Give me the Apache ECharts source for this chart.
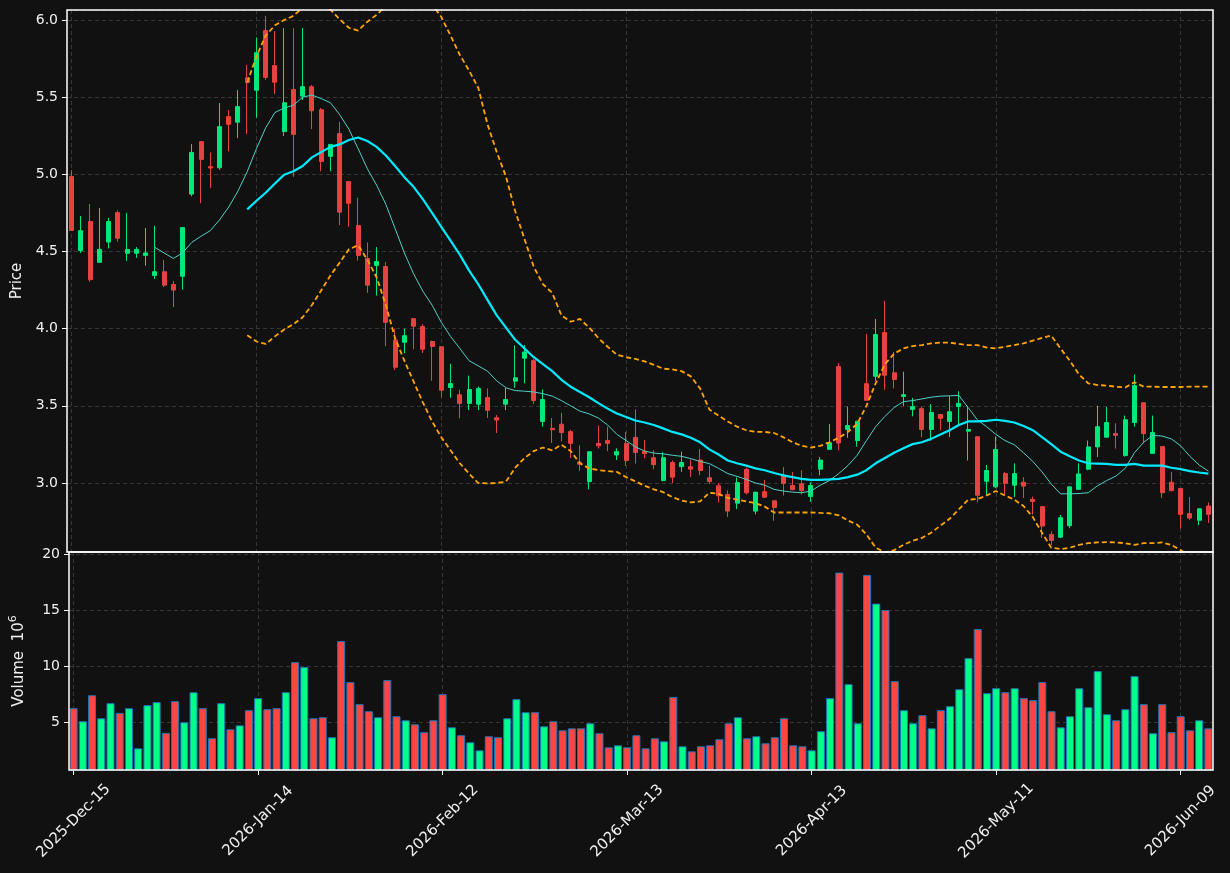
<!DOCTYPE html>
<html>
<head>
<meta charset="utf-8">
<script src="https://cdn.jsdelivr.net/npm/echarts@6/dist/echarts.min.js"></script>
<style>
  html, body { margin: 0; padding: 0; background: #111111; }
  #chart { width: 1230px; height: 873px; }
</style>
</head>
<body>
<div id="chart"></div>
<script>
// trading days shown on the x axis
const dates = [
  '2025-Dec-15','2025-Dec-16','2025-Dec-17','2025-Dec-18','2025-Dec-19','2025-Dec-22','2025-Dec-23','2025-Dec-24','2025-Dec-26','2025-Dec-29','2025-Dec-30','2025-Dec-31',
  '2026-Jan-02','2026-Jan-05','2026-Jan-06','2026-Jan-07','2026-Jan-08','2026-Jan-09','2026-Jan-12','2026-Jan-13','2026-Jan-14','2026-Jan-15','2026-Jan-16','2026-Jan-20','2026-Jan-21','2026-Jan-22','2026-Jan-23','2026-Jan-26','2026-Jan-27','2026-Jan-28','2026-Jan-29','2026-Jan-30',
  '2026-Feb-02','2026-Feb-03','2026-Feb-04','2026-Feb-05','2026-Feb-06','2026-Feb-09','2026-Feb-10','2026-Feb-11','2026-Feb-12','2026-Feb-13','2026-Feb-17','2026-Feb-18','2026-Feb-19','2026-Feb-20','2026-Feb-23','2026-Feb-24','2026-Feb-25','2026-Feb-26','2026-Feb-27',
  '2026-Mar-02','2026-Mar-03','2026-Mar-04','2026-Mar-05','2026-Mar-06','2026-Mar-09','2026-Mar-10','2026-Mar-11','2026-Mar-12','2026-Mar-13','2026-Mar-16','2026-Mar-17','2026-Mar-18','2026-Mar-19','2026-Mar-20','2026-Mar-23','2026-Mar-24','2026-Mar-25','2026-Mar-26','2026-Mar-27','2026-Mar-30','2026-Mar-31',
  '2026-Apr-01','2026-Apr-02','2026-Apr-06','2026-Apr-07','2026-Apr-08','2026-Apr-09','2026-Apr-10','2026-Apr-13','2026-Apr-14','2026-Apr-15','2026-Apr-16','2026-Apr-17','2026-Apr-20','2026-Apr-21','2026-Apr-22','2026-Apr-23','2026-Apr-24','2026-Apr-27','2026-Apr-28','2026-Apr-29','2026-Apr-30',
  '2026-May-01','2026-May-04','2026-May-05','2026-May-06','2026-May-07','2026-May-08','2026-May-11','2026-May-12','2026-May-13','2026-May-14','2026-May-15','2026-May-18','2026-May-19','2026-May-20','2026-May-21','2026-May-22','2026-May-26','2026-May-27','2026-May-28','2026-May-29',
  '2026-Jun-01','2026-Jun-02','2026-Jun-03','2026-Jun-04','2026-Jun-05','2026-Jun-08','2026-Jun-09','2026-Jun-10','2026-Jun-11','2026-Jun-12'
];

const opens = [
  4.986,4.507,4.694,4.430,4.561,4.752,4.489,4.489,4.475,4.345,4.369,4.286,4.340,4.872,5.212,5.050,5.043,5.374,5.338,5.626,
  5.545,5.932,5.705,5.277,5.550,5.507,5.568,5.419,5.117,5.264,4.953,4.669,4.455,4.410,4.403,3.926,3.912,4.065,4.014,3.917,
  3.883,3.619,3.572,3.516,3.511,3.554,3.423,3.511,3.660,3.809,3.793,3.399,3.354,3.381,3.333,3.135,3.009,3.257,3.275,3.182,
  3.257,3.295,3.205,3.164,3.016,3.133,3.106,3.106,3.149,3.034,2.982,2.926,2.869,3.088,2.818,2.944,2.885,3.052,2.984,2.995,
  2.912,3.090,3.218,3.755,3.347,3.275,3.644,3.691,3.975,3.714,3.561,3.477,3.482,3.347,3.444,3.399,3.495,3.336,3.300,3.011,
  2.975,3.061,2.986,3.005,2.894,2.847,2.667,2.649,2.723,2.959,3.090,3.234,3.297,3.320,3.178,3.392,3.520,3.192,3.236,3.005,
  2.964,2.802,2.759,2.851
];
const highs = [
  5.027,4.730,4.809,4.782,4.718,4.766,4.750,4.529,4.653,4.667,4.446,4.309,4.655,5.196,5.212,5.142,5.462,5.417,5.547,5.709,
  5.887,6.027,5.928,5.948,5.948,5.948,5.579,5.430,5.194,5.340,4.957,4.849,4.559,4.529,4.432,4.000,4.000,4.065,4.029,3.923,
  3.883,3.773,3.604,3.696,3.624,3.613,3.441,3.615,3.892,3.894,3.804,3.606,3.421,3.455,3.345,3.243,3.203,3.372,3.365,3.225,
  3.331,3.477,3.279,3.214,3.200,3.146,3.203,3.153,3.221,3.113,3.000,2.953,3.036,3.099,2.941,3.020,2.885,3.104,3.072,3.083,
  3.005,3.169,3.383,3.777,3.495,3.401,3.966,4.063,4.180,3.849,3.721,3.552,3.495,3.511,3.448,3.563,3.595,3.500,3.300,3.117,
  3.302,3.072,3.128,3.038,2.912,2.851,2.687,2.793,2.975,3.128,3.275,3.500,3.493,3.387,3.437,3.703,3.520,3.437,3.236,3.072,
  2.964,2.910,2.833,2.874
];
const lows = [
  4.637,4.491,4.304,4.430,4.520,4.563,4.439,4.459,4.408,4.322,4.270,4.140,4.254,4.858,4.813,4.910,5.029,5.149,5.236,5.261,
  5.367,5.613,5.520,5.248,4.984,5.482,5.293,5.020,5.020,4.671,4.660,4.441,4.232,4.214,3.887,3.732,3.842,3.867,3.842,3.662,
  3.556,3.552,3.419,3.473,3.473,3.421,3.324,3.473,3.617,3.646,3.511,3.365,3.259,3.270,3.162,3.079,2.959,3.223,3.207,3.149,
  3.110,3.126,3.160,3.090,3.011,3.000,3.072,3.038,3.050,2.993,2.874,2.779,2.831,2.926,2.797,2.903,2.755,2.919,2.953,2.926,
  2.878,3.050,3.218,3.212,3.293,3.236,3.536,3.662,3.604,3.613,3.500,3.432,3.297,3.275,3.342,3.297,3.381,3.146,2.874,2.921,
  2.966,2.926,2.908,2.903,2.795,2.644,2.599,2.644,2.707,2.959,3.083,3.169,3.293,3.223,3.171,3.365,3.257,3.192,2.903,2.950,
  2.705,2.761,2.727,2.741
];
const closes = [
  4.637,4.635,4.318,4.514,4.694,4.586,4.514,4.514,4.491,4.369,4.282,4.250,4.655,5.142,5.097,5.041,5.309,5.324,5.439,5.595,
  5.788,5.628,5.597,5.464,5.259,5.568,5.412,5.083,5.194,4.755,4.813,4.475,4.282,4.435,4.041,3.750,3.955,4.016,3.867,3.885,
  3.601,3.644,3.516,3.606,3.613,3.471,3.408,3.541,3.682,3.849,3.534,3.541,3.345,3.327,3.257,3.122,3.203,3.241,3.257,3.203,
  3.146,3.198,3.191,3.119,3.164,3.038,3.133,3.090,3.081,3.009,2.917,2.818,3.002,2.937,2.941,2.908,2.842,2.998,2.957,2.950,
  2.984,3.149,3.261,3.259,3.372,3.401,3.536,3.962,3.698,3.671,3.572,3.495,3.347,3.457,3.419,3.462,3.516,3.347,2.921,3.081,
  3.218,2.998,3.061,2.980,2.880,2.721,2.628,2.775,2.975,3.059,3.234,3.365,3.392,3.309,3.410,3.631,3.320,3.327,2.937,2.950,
  2.797,2.773,2.833,2.797
];

// volume in millions
const volumes = [
  6.25,5.08,7.41,5.35,6.70,5.83,6.25,2.66,6.52,6.79,4.04,6.88,4.99,7.68,6.25,3.56,6.70,4.36,4.72,6.07,
  7.15,6.16,6.25,7.68,10.37,9.93,5.35,5.44,3.65,12.26,8.58,6.61,5.98,5.44,8.76,5.53,5.17,4.81,4.10,5.17,
  7.50,4.54,3.83,3.20,2.48,3.74,3.65,5.35,7.06,5.89,5.89,4.63,5.08,4.27,4.45,4.45,4.90,4.01,2.75,2.93,
  2.75,3.83,2.66,3.56,3.29,7.26,2.84,2.39,2.84,2.93,3.47,4.90,5.44,3.56,3.74,3.11,3.65,5.35,2.93,2.84,
  2.48,4.19,7.15,18.39,8.40,4.90,18.18,15.61,15.04,8.67,6.07,4.90,5.62,4.45,6.07,6.43,7.95,10.73,13.33,7.59,
  8.04,7.68,8.04,7.15,6.97,8.58,5.98,4.54,5.53,8.04,6.34,9.57,5.71,5.17,6.16,9.12,6.61,4.01,6.61,4.10,
  5.53,4.27,5.17,4.45
];

// 10 and 20 period averages and bands as drawn
const ma10 = [
  null,null,null,null,null,null,null,null,null,4.527,4.491,4.455,4.491,4.559,4.599,4.635,4.705,4.788,4.892,5.018,
  5.167,5.302,5.401,5.430,5.448,5.500,5.514,5.491,5.464,5.387,5.293,5.167,5.036,4.930,4.806,4.649,4.491,4.356,4.243,4.153,
  4.041,3.950,3.872,3.793,3.759,3.725,3.662,3.617,3.599,3.595,3.590,3.579,3.563,3.534,3.500,3.466,3.448,3.421,3.376,3.315,
  3.275,3.234,3.207,3.194,3.189,3.180,3.173,3.158,3.140,3.126,3.095,3.061,3.043,3.023,3.000,2.986,2.959,2.948,2.941,2.937,
  2.948,2.986,3.016,3.061,3.113,3.180,3.275,3.365,3.432,3.489,3.527,3.534,3.545,3.556,3.563,3.565,3.568,3.489,3.410,3.365,
  3.315,3.275,3.248,3.196,3.140,3.072,2.993,2.930,2.930,2.932,2.937,2.982,3.016,3.045,3.095,3.196,3.264,3.309,3.304,3.286,
  3.241,3.173,3.117,3.077
];
const ma20 = [
  null,null,null,null,null,null,null,null,null,null,null,null,null,null,null,null,null,null,null,4.773,
  4.829,4.881,4.941,4.998,5.020,5.054,5.110,5.144,5.178,5.194,5.223,5.239,5.216,5.178,5.122,5.054,4.982,4.919,4.840,4.750,
  4.660,4.570,4.480,4.378,4.288,4.187,4.086,4.007,3.928,3.872,3.815,3.770,3.725,3.669,3.624,3.590,3.556,3.518,3.482,3.450,
  3.428,3.405,3.392,3.376,3.354,3.331,3.315,3.293,3.264,3.218,3.185,3.146,3.128,3.113,3.095,3.083,3.065,3.050,3.038,3.027,
  3.020,3.020,3.023,3.027,3.038,3.054,3.083,3.128,3.162,3.196,3.225,3.252,3.264,3.286,3.315,3.342,3.376,3.399,3.399,3.403,
  3.410,3.403,3.392,3.369,3.342,3.297,3.252,3.203,3.173,3.146,3.128,3.126,3.124,3.117,3.117,3.124,3.113,3.113,3.113,3.099,
  3.090,3.077,3.068,3.061
];
const bandUpper = [
  null,null,null,null,null,null,null,null,null,null,null,null,null,null,null,null,null,null,null,5.595,
  5.764,5.899,5.966,6.000,6.027,6.080,6.120,6.110,6.068,6.005,5.950,5.932,5.989,6.034,6.091,6.169,6.171,6.180,6.157,6.101,
  6.020,5.899,5.775,5.673,5.561,5.324,5.144,4.986,4.761,4.581,4.401,4.288,4.232,4.086,4.045,4.063,4.007,3.939,3.883,3.831,
  3.815,3.804,3.788,3.766,3.741,3.736,3.725,3.691,3.613,3.477,3.437,3.399,3.365,3.342,3.331,3.331,3.324,3.297,3.264,3.241,
  3.230,3.241,3.264,3.293,3.331,3.383,3.500,3.646,3.770,3.838,3.872,3.887,3.894,3.905,3.910,3.910,3.901,3.894,3.894,3.878,
  3.872,3.883,3.894,3.905,3.923,3.940,3.955,3.872,3.793,3.703,3.646,3.635,3.631,3.624,3.619,3.653,3.624,3.624,3.622,3.622,
  3.622,3.624,3.624,3.624
];
const bandLower = [
  null,null,null,null,null,null,null,null,null,null,null,null,null,null,null,null,null,null,null,3.957,
  3.917,3.901,3.950,3.995,4.029,4.074,4.153,4.248,4.345,4.428,4.514,4.541,4.446,4.333,4.153,3.939,3.793,3.658,3.523,3.399,
  3.297,3.212,3.128,3.061,3.000,2.998,3.000,3.009,3.099,3.162,3.207,3.230,3.212,3.248,3.207,3.128,3.095,3.083,3.077,3.072,
  3.038,3.011,2.982,2.959,2.941,2.908,2.887,2.874,2.881,2.937,2.930,2.903,2.892,2.881,2.869,2.847,2.809,2.809,2.809,2.809,
  2.809,2.806,2.804,2.791,2.757,2.730,2.667,2.581,2.550,2.565,2.599,2.626,2.644,2.678,2.723,2.768,2.829,2.892,2.896,2.919,
  2.948,2.919,2.892,2.851,2.779,2.678,2.581,2.572,2.581,2.599,2.610,2.615,2.617,2.615,2.610,2.599,2.610,2.610,2.615,2.599,
  2.565,2.530,2.512,2.498
];

const priceMin = 2.553, priceMax = 6.065;
const volMin = 0.72, volMax = 20.23;

const upColor = '#00e77c', downColor = '#e74242';
const volUp = '#00ff88', volDown = '#ff4444';
const textColor = '#f0f0f0';
const gridColor = '#363636';
const font = 'DejaVu Sans';

const chart = echarts.init(document.getElementById('chart'));

const candles = opens.map((o, i) => [o, closes[i], lows[i], highs[i]]);
const volBars = volumes.map((v, i) => ({
  value: v,
  itemStyle: { color: closes[i] >= opens[i] ? volUp : volDown }
}));
const gap = (arr) => arr.map((v) => (v === null ? '-' : v));

const dashed = { color: gridColor, width: 1, type: [4, 3] };

chart.setOption({
  animation: false,
  backgroundColor: '#111111',
  textStyle: { fontFamily: font },
  grid: [
    { left: 67, top: 10, width: 1146, height: 542, show: true, z: 10,
      backgroundColor: 'transparent', borderColor: '#ffffff', borderWidth: 1.5 },
    { left: 67, top: 552, width: 1146, height: 218, show: true, z: 10,
      backgroundColor: 'transparent', borderColor: '#ffffff', borderWidth: 1.5 }
  ],
  xAxis: [
    {
      type: 'category', gridIndex: 0, data: dates, boundaryGap: true,
      axisLine: { show: false },
      axisTick: { show: false },
      axisLabel: { show: false },
      splitLine: { show: true, interval: 19, alignWithLabel: true, lineStyle: dashed }
    },
    {
      type: 'category', gridIndex: 1, data: dates, boundaryGap: true,
      axisLine: { show: false },
      axisTick: { show: true, interval: 19, alignWithLabel: true, length: 5,
        lineStyle: { color: '#ffffff', width: 1 } },
      axisLabel: {
        interval: 19, rotate: 45, align: 'center', verticalAlign: 'middle', margin: 51,
        color: textColor, fontSize: 15, fontFamily: font
      },
      splitLine: { show: true, interval: 19, alignWithLabel: true, lineStyle: dashed }
    }
  ],
  yAxis: [
    {
      type: 'value', gridIndex: 0, min: priceMin, max: priceMax, splitNumber: 7,
      name: 'Price', nameLocation: 'middle', nameGap: 41, nameRotate: 90,
      nameTextStyle: { color: textColor, fontSize: 15, fontFamily: font },
      axisLine: { show: false },
      axisTick: { show: true, length: 5, lineStyle: { color: '#ffffff' } },
      axisLabel: { color: textColor, fontSize: 14, margin: 9, fontFamily: font,
        showMinLabel: false, showMaxLabel: false, formatter: (v) => v.toFixed(1) },
      splitLine: { show: true, lineStyle: dashed }
    },
    {
      type: 'value', gridIndex: 1, min: volMin, max: volMax, splitNumber: 4,
      name: 'Volume  10{sup|6}', nameLocation: 'middle', nameGap: 39, nameRotate: 90,
      nameTextStyle: {
        color: textColor, fontSize: 15, fontFamily: font, lineHeight: 22,
        rich: { sup: { color: textColor, fontSize: 11, fontFamily: font, verticalAlign: 'top', lineHeight: 22 } }
      },
      axisLine: { show: false },
      axisTick: { show: true, length: 5, lineStyle: { color: '#ffffff' } },
      axisLabel: { color: textColor, fontSize: 14, margin: 9, fontFamily: font,
        showMinLabel: false, showMaxLabel: false, formatter: (v) => String(Math.round(v)) },
      splitLine: { show: true, lineStyle: dashed }
    }
  ],
  series: [
    {
      type: 'candlestick', xAxisIndex: 0, yAxisIndex: 0, data: candles, barWidth: 4.5,
      itemStyle: { color: upColor, color0: downColor, borderColor: upColor, borderColor0: downColor, borderWidth: 1 }
    },
    {
      type: 'line', xAxisIndex: 0, yAxisIndex: 0, data: gap(ma10), symbol: 'none',
      lineStyle: { color: '#4fd1c5', width: 1 }
    },
    {
      type: 'line', xAxisIndex: 0, yAxisIndex: 0, data: gap(ma20), symbol: 'none',
      lineStyle: { color: '#00eaff', width: 2.2 }
    },
    {
      type: 'line', xAxisIndex: 0, yAxisIndex: 0, data: gap(bandUpper), symbol: 'none',
      lineStyle: { color: '#ffa500', width: 1.8, type: [5, 3] }
    },
    {
      type: 'line', xAxisIndex: 0, yAxisIndex: 0, data: gap(bandLower), symbol: 'none',
      lineStyle: { color: '#ffa500', width: 1.8, type: [5, 3] }
    },
    {
      type: 'bar', xAxisIndex: 1, yAxisIndex: 1, data: volBars, barWidth: 8,
      itemStyle: { borderColor: '#1f77b4', borderWidth: 1 }
    }
  ]
});
</script>
</body>
</html>
